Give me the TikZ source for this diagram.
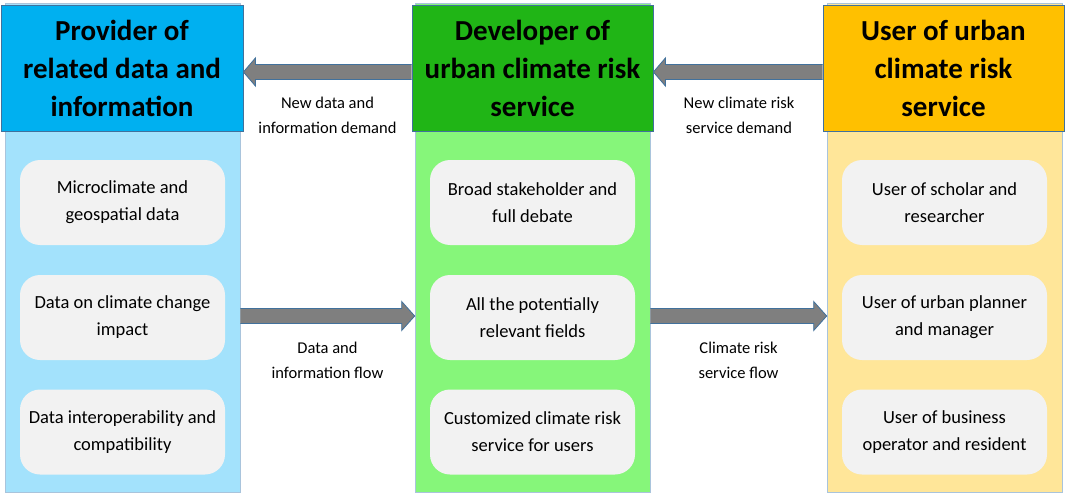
\documentclass[tikz,border=0pt]{standalone}
\usepackage{fontspec}
\setmainfont{Carlito}
\usetikzlibrary{calc}
\definecolor{hblue}{HTML}{00B0F0}
\definecolor{bblue}{HTML}{A3E2FC}
\definecolor{hgreen}{HTML}{20B516}
\definecolor{bgreen}{HTML}{86F67A}
\definecolor{hyellow}{HTML}{FFC000}
\definecolor{byellow}{HTML}{FFE699}
\definecolor{edge}{HTML}{41719C}
\definecolor{bedge}{HTML}{A9C4DC}
\definecolor{inner}{HTML}{F2F2F2}
\definecolor{arrgray}{HTML}{7F7F7F}
\tikzset{
  colbg/.style={draw=bedge, line width=0.6pt, minimum width=235pt, minimum height=489pt, inner sep=0pt},
  header/.style={draw=edge, line width=0.8pt, minimum width=241pt, minimum height=126pt, inner sep=0pt,
    align=center, font=\fontsize{29}{38}\selectfont\bfseries},
  itembox/.style={fill=inner, rounded corners=20pt, minimum width=205pt, minimum height=85pt, inner sep=0pt,
    align=center, font=\fontsize{18.5}{27}\selectfont},
  flowlabel/.style={align=center, font=\fontsize{16.5}{25}\selectfont, inner sep=0pt},
  fat/.style={fill=arrgray, draw=edge, line width=0.8pt, line join=miter}
}
\begin{document}
\begin{tikzpicture}[x=1pt,y=1pt]
\useasboundingbox (0,0) rectangle (1067,499);
% column backgrounds
\node[colbg, fill=bblue] (bl) at (122.5,251.5) {};
\node[colbg, fill=bgreen] (bm) at (532.5,251.5) {};
\node[colbg, fill=byellow] (br) at (944.5,251.5) {};
% headers
\node[header, fill=hblue, minimum width=242pt] (hl) at (122,431) {Provider of\\related data and\\information};
\node[header, fill=hgreen] (hm) at (532.5,431) {Developer of\\urban climate risk\\service};
\node[header, fill=hyellow] (hr) at (943.5,431) {User of urban\\climate risk\\service};
% inner boxes
\node[itembox] (l1) at (122.5,296.5) {Microclimate and\\geospatial data};
\node[itembox] (l2) at (122.5,181.5) {Data on climate change\\impact};
\node[itembox] (l3) at (122.5,67) {Data interoperability and\\compatibility};
\node[itembox] (m1) at (532.5,296.5) {Broad stakeholder and\\full debate};
\node[itembox] (m2) at (532.5,181.5) {All the potentially\\relevant fields};
\node[itembox] (m3) at (532.5,67) {Customized climate risk\\service for users};
\node[itembox] (r1) at (944.5,296.5) {User of scholar and\\researcher};
\node[itembox] (r2) at (944.5,181.5) {User of urban planner\\and manager};
\node[itembox] (r3) at (944.5,67) {User of business\\operator and resident};
% arrow levels
\coordinate (yt) at (0,427);
\coordinate (yb) at (0,183);
\coordinate (a1s) at (hm.west |- yt);
\coordinate (a1e) at (hl.east |- yt);
\coordinate (a2s) at (hr.west |- yt);
\coordinate (a2e) at (hm.east |- yt);
\coordinate (a3s) at (bl.east |- yb);
\coordinate (a3e) at (bm.west |- yb);
\coordinate (a4s) at (bm.east |- yb);
\coordinate (a4e) at (br.west |- yb);
% left-pointing arrows
\draw[fat] ($(a1s)+(0,7.5)$) -- ($(a1e)+(12,7.5)$) -- ($(a1e)+(12,14)$) -- (a1e) -- ($(a1e)+(12,-14)$) -- ($(a1e)+(12,-7.5)$) -- ($(a1s)+(0,-7.5)$);
\draw[fat] ($(a2s)+(0,7.5)$) -- ($(a2e)+(12,7.5)$) -- ($(a2e)+(12,14)$) -- (a2e) -- ($(a2e)+(12,-14)$) -- ($(a2e)+(12,-7.5)$) -- ($(a2s)+(0,-7.5)$);
% right-pointing arrows
\draw[fat] ($(a3s)+(0,7.5)$) -- ($(a3e)+(-13,7.5)$) -- ($(a3e)+(-13,14.5)$) -- (a3e) -- ($(a3e)+(-13,-14.5)$) -- ($(a3e)+(-13,-7.5)$) -- ($(a3s)+(0,-7.5)$);
\draw[fat] ($(a4s)+(0,7.5)$) -- ($(a4e)+(-13,7.5)$) -- ($(a4e)+(-13,14.5)$) -- (a4e) -- ($(a4e)+(-13,-14.5)$) -- ($(a4e)+(-13,-7.5)$) -- ($(a4s)+(0,-7.5)$);
% labels
\node[flowlabel] (t1) at (327.5,383.5) {New data and\\information demand};
\node[flowlabel] (t2) at (739,383.5) {New climate risk\\service demand};
\node[flowlabel] (t3) at (327.5,138.5) {Data and\\information flow};
\node[flowlabel] (t4) at (738.5,138.5) {Climate risk\\service flow};
\end{tikzpicture}
\end{document}
